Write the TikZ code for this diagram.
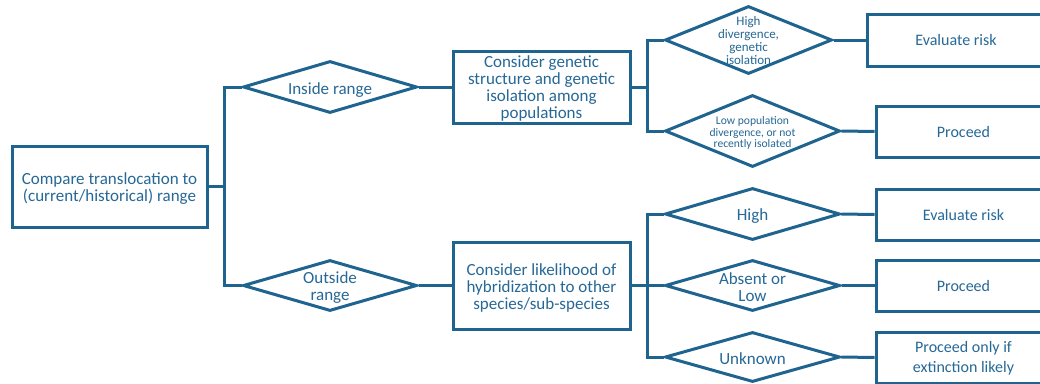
\documentclass[tikz,border=0pt]{standalone}
\usepackage{fontspec}
\setmainfont{Carlito}
\usetikzlibrary{shapes.geometric}
\definecolor{lineblue}{RGB}{31,99,143}
\definecolor{textblue}{RGB}{38,104,150}
\tikzset{
  box/.style={draw=lineblue, line width=3pt, rectangle, inner sep=0pt, fill=white},
  dia/.style={draw=lineblue, line width=3pt, diamond, inner sep=0pt, fill=white},
  txt/.style={text=textblue, align=center, inner sep=0pt, font=\fontsize{17pt}{17pt}\selectfont},
  rtxt/.style={text=textblue, align=center, inner sep=0pt, font=\fontsize{16pt}{19.5pt}\selectfont},
  conn/.style={draw=lineblue, line width=3pt},
}
\begin{document}
\begin{tikzpicture}[x=1pt,y=-1pt]
\useasboundingbox (0,0) rectangle (1040,383);
\clip (0,0) rectangle (1040,383);
% level 0
\node[box, minimum width=195pt, minimum height=81pt] (cmp) at (109.5,186.5) {};
\node[txt] (cmpt) at ([yshift=-2.5pt]cmp) {Compare translocation to\\(current/historical) range};
% level 1 diamonds
\node[dia, minimum width=174pt, minimum height=52pt] (din) at (330,87) {};
\node[txt] (dint) at ([yshift=-3pt]din) {Inside range};
\node[dia, minimum width=174pt, minimum height=51pt] (dout) at (330,285.5) {};
\node[txt] (doutt) at ([yshift=-2.5pt]dout) {Outside\\range};
% level 2 boxes
\node[box, minimum width=177pt, minimum height=72pt] (gen) at (541.5,87) {};
\node[txt] (gent) at ([yshift=-1.5pt]gen) {Consider genetic\\structure and genetic\\isolation among\\populations};
\node[box, minimum width=177pt, minimum height=87pt] (hyb) at (541.5,285.5) {};
\node[txt] (hybt) at ([yshift=-2pt]hyb) {Consider likelihood of\\hybridization to other\\species/sub-species};
% level 3 diamonds
\node[dia, minimum width=167pt, minimum height=68pt] (d1) at (748.5,40) {};
\node[text=textblue, align=center, inner sep=0pt, font=\fontsize{13pt}{13pt}\selectfont] (d1t) at ([yshift=-1pt]d1) {High\\divergence,\\genetic\\isolation};
\node[dia, minimum width=175pt, minimum height=72pt] (d2) at (752.5,131) {};
\node[text=textblue, align=center, inner sep=0pt, font=\fontsize{11.6pt}{11.6pt}\selectfont] (d2t) at ([yshift=-2pt]d2) {Low population\\divergence, or not\\recently isolated};
\node[dia, minimum width=175pt, minimum height=52pt] (d3) at (752.5,214) {};
\node[txt] (d3t) at ([yshift=-2.5pt]d3) {High};
\node[dia, minimum width=175pt, minimum height=51pt] (d4) at (752.5,285.5) {};
\node[txt] (d4t) at ([yshift=-2pt]d4) {Absent or\\Low};
\node[dia, minimum width=175pt, minimum height=50pt] (d5) at (752.5,357) {};
\node[txt] (d5t) at ([yshift=-2pt]d5) {Unknown};
% level 4 boxes
\node[box, minimum width=178pt, minimum height=52pt] (r1) at (956,40) {};
\node[rtxt] (r1t) at (r1) {Evaluate risk};
\node[box, minimum width=175pt, minimum height=51pt] (r2) at (963.5,131.5) {};
\node[rtxt] (r2t) at (r2) {Proceed};
\node[box, minimum width=175pt, minimum height=51pt] (r3) at (963.5,214.5) {};
\node[rtxt] (r3t) at (r3) {Evaluate risk};
\node[box, minimum width=175pt, minimum height=51pt] (r4) at (963.5,285.5) {};
\node[rtxt] (r4t) at (r4) {Proceed};
\node[box, minimum width=175pt, minimum height=51pt] (r5) at (963.5,357.5) {};
\node[rtxt] (r5t) at ([yshift=-0.5pt]r5) {Proceed only if\\extinction likely};
% connectors
\coordinate (t1) at (224,186.5);
\coordinate (t2) at (647,87);
\coordinate (t3) at (647,285.5);
\draw[conn] (cmp.east) -- (t1);
\draw[conn] (din.west) -| (t1) |- (dout.west);
\draw[conn] (din.east) -- (gen.west);
\draw[conn] (dout.east) -- (hyb.west);
\draw[conn] (gen.east) -- (t2);
\draw[conn] (d1.west) -| (t2) |- (d2.west);
\draw[conn] (hyb.east) -- (t3);
\draw[conn] (d3.west) -| (t3) |- (d5.west);
\draw[conn] (t3) -- (d4.west);
\draw[conn] (d1.east) -- (r1.west);
\draw[conn] (d2.east) -- (r2.west);
\draw[conn] (d3.east) -- (r3.west);
\draw[conn] (d4.east) -- (r4.west);
\draw[conn] (d5.east) -- (r5.west);
\end{tikzpicture}
\end{document}
